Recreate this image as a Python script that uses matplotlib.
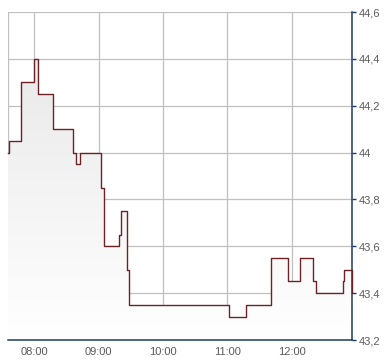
import numpy as np
import matplotlib
matplotlib.use("Agg")
import matplotlib.pyplot as plt
from matplotlib.colors import LinearSegmentedColormap

plt.rcParams['font.family'] = ['Liberation Sans', 'DejaVu Sans']

# intraday price steps (time, price)
times = ["07:35:42", "07:36:00", "07:47:18", "07:47:54", "08:00:00", "08:03:42",
         "08:17:42", "08:36:24", "08:38:36", "08:42:54", "09:02:30", "09:05:18",
         "09:19:18", "09:21:12", "09:26:48", "09:28:24", "11:02:00", "11:17:48",
         "11:41:06", "11:57:00", "12:08:12", "12:20:18", "12:22:54", "12:48:18",
         "12:49:18", "12:56:24"]
prices = [44.00, 44.05, 44.15, 44.30, 44.40, 44.25,
          44.10, 44.00, 43.95, 44.00, 43.85, 43.60,
          43.65, 43.75, 43.50, 43.35, 43.30, 43.35,
          43.55, 43.45, 43.55, 43.45, 43.40, 43.45,
          43.50, 43.40]

xticks = ["08:00", "09:00", "10:00", "11:00", "12:00"]
yticks = [43.2, 43.4, 43.6, 43.8, 44.0, 44.2, 44.4, 44.6]


def to_min(s):
    p = [int(v) for v in s.split(":")]
    while len(p) < 3:
        p.append(0)
    return p[0] * 60 + p[1] + p[2] / 60.0


t = np.array([to_min(s) for s in times])
v = np.array(prices)

fig = plt.figure(figsize=(3.9, 3.64), dpi=100)
ax = fig.add_axes([8.3 / 390, 24 / 364, (352 - 8.3) / 390, 328 / 364])

x0, x1 = t[0], t[-1]
y0, y1 = 43.2, 44.6
ax.set_xlim(x0, x1)
ax.set_ylim(y0, y1)

# gradient fill under the step line
poly = ax.fill_between(t, v, y0, step="post", color="none", lw=0)
cmap = LinearSegmentedColormap.from_list("g", ["#ffffff", "#e6e6e6"])
grad = np.linspace(0, 1, 256).reshape(-1, 1)
img = ax.imshow(grad, cmap=cmap, aspect="auto", origin="lower",
                extent=[x0, x1, y0, y1], zorder=1)
img.set_clip_path(poly.get_paths()[0], transform=ax.transData)

ax.step(t, v, where="post", color="#6b2328", lw=1.0, zorder=3, clip_on=False)

ax.set_xticks([to_min(s) for s in xticks])
ax.set_xticklabels(xticks)
ax.set_yticks(yticks)
ax.set_yticklabels([("%g" % y).replace(".", ",") for y in yticks])

ax.grid(True, color="#c0c0c0", lw=0.9)
ax.set_axisbelow(True)
ax.axvline(x0, color="#c0c0c0", lw=0.9, zorder=0.5)

for s in ["top", "left"]:
    ax.spines[s].set_visible(False)
for s in ["bottom", "right"]:
    ax.spines[s].set_color("#1c3a66")
    ax.spines[s].set_linewidth(1.1)

ax.yaxis.tick_right()
ax.tick_params(axis="y", colors="#1c3a66", length=3, width=1, pad=2,
               labelcolor="#5a5a5a", labelsize=8)
ax.tick_params(axis="x", length=0, pad=5, labelcolor="#5a5a5a", labelsize=8)

fig.savefig("out.png", dpi=100)
